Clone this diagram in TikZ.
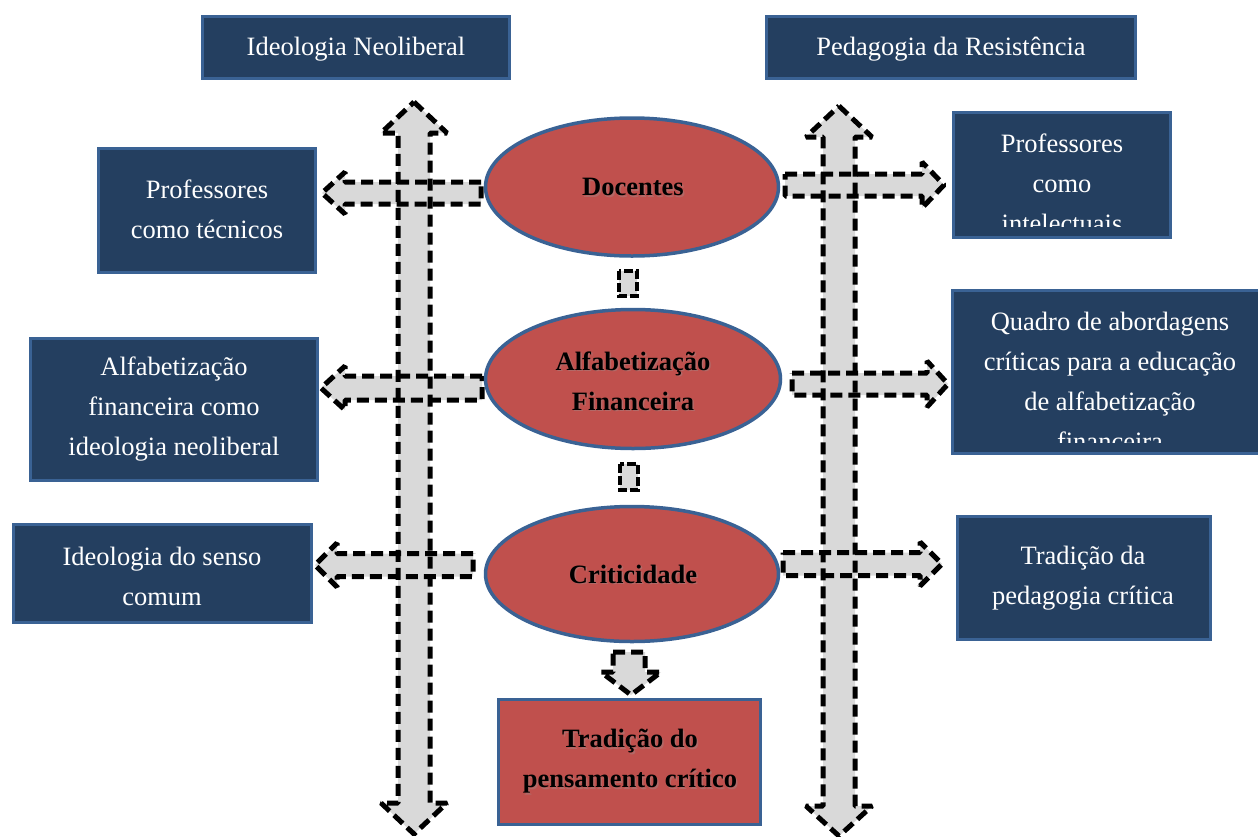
\documentclass[tikz,border=0pt]{standalone}
\usepackage{fontspec}
\setmainfont{Liberation Serif}
\usetikzlibrary{shapes.geometric}
\definecolor{navy}{HTML}{243F60}
\definecolor{bord}{HTML}{3A6294}
\definecolor{redf}{HTML}{C0504D}
\definecolor{arrg}{HTML}{D9D9D9}
% #1 y centre, #2 base x, #3 head x, #4 tip x, #5 shaft half height, #6 head half height
\newcommand\hArrowPath[6]{(#2,#1-#5) -- (#3,#1-#5) -- (#3,#1-#6) -- (#4,#1) -- (#3,#1+#6) -- (#3,#1+#5) -- (#2,#1+#5) -- cycle}
% #1 x centre, #2 top tip, #3 top head, #4 bottom head, #5 bottom tip, #6 shaft half, #7 head half
\newcommand\vArrowPath[7]{(#1,#2) -- (#1+#7,#3) -- (#1+#6,#3) -- (#1+#6,#4) -- (#1+#7,#4) -- (#1,#5) -- (#1-#7,#4) -- (#1-#6,#4) -- (#1-#6,#3) -- (#1-#7,#3) -- cycle}
\newcommand\dArrowPath{(613,652) -- (645,652) -- (645,672) -- (661,672) -- (631,695) -- (601,672) -- (613,672) -- cycle}
\begin{document}
\begin{tikzpicture}[x=1pt,y=-1pt,
  navybox/.style={draw=bord,line width=3pt,fill=navy,inner sep=0pt},
  redbox/.style={draw=bord,line width=3pt,fill=redf,inner sep=0pt},
  wtext/.style={text=white,font=\fontsize{26.5}{40}\selectfont,align=center,inner sep=0pt},
  btext/.style={text=black,font=\fontsize{26.5}{40}\selectfont\bfseries,align=center,inner sep=0pt},
  shtext/.style={btext,text=black!40,opacity=0.35},
  redell/.style={ellipse,draw=bord,line width=3.5pt,fill=redf,inner sep=0pt},
  arrfill/.style={fill=arrg},
  arrline/.style={draw=black,line width=5pt,dash pattern=on 12pt off 6pt,line join=bevel},
  smallline/.style={draw=black,line width=4pt,dash pattern=on 9pt off 3pt}]
\useasboundingbox (0,0) rectangle (1258,836);

% top boxes
\node[navybox,minimum width=307pt,minimum height=62pt] (neo) at (356,47.5) {};
\node[wtext] (neoT) at (356,49.5) {Ideologia Neoliberal};
\node[navybox,minimum width=369pt,minimum height=62pt] (res) at (951,47.5) {};
\node[wtext] (resT) at (951,49.5) {Pedagogia da Resistência};

% left boxes
\node[navybox,minimum width=217pt,minimum height=124pt] (tec) at (207,210.5) {};
\node[wtext] (tecT) at (207,209) {Professores\\como técnicos};
\node[navybox,minimum width=287pt,minimum height=142pt] (afn) at (174,409.5) {};
\node[wtext] (afnT) at (174,409.5) {Alfabetização\\financeira como\\ideologia neoliberal};
\node[navybox,minimum width=298pt,minimum height=98pt] (sen) at (162.5,573.5) {};
\node[wtext] (senT) at (162,576) {Ideologia do senso\\comum};

% right boxes
\node[navybox,minimum width=217pt,minimum height=125pt] (int) at (1062,175) {};
\begin{scope}
  \clip (952,111) rectangle (1172,226);
  \node[wtext] (intT) at (1062,183) {Professores\\como\\intelectuais};
\end{scope}
\node[navybox,minimum width=308pt,minimum height=163pt] (qua) at (1106.5,372) {};
\begin{scope}
  \clip (951,289) rectangle (1258,442);
  \node[wtext] (quaT) at (1110,381) {Quadro de abordagens\\críticas para a educação\\de alfabetização\\financeira};
\end{scope}
\node[navybox,minimum width=253pt,minimum height=123pt] (ped) at (1084,578) {};
\node[wtext] (pedT) at (1083,578.5) {Tradição da\\pedagogia crítica};

% arrow fills
\fill[arrfill] \vArrowPath{414}{102}{133}{803}{834}{16}{33};
\fill[arrfill] \vArrowPath{839}{106}{137}{806}{836}{16}{33};
\fill[arrfill] \hArrowPath{193}{481}{345}{322}{11}{21};
\fill[arrfill] \hArrowPath{388}{482}{345}{321}{12}{22};
\fill[arrfill] \hArrowPath{565}{473}{337}{315}{11.5}{22};
\fill[arrfill] \hArrowPath{185}{785}{922}{944}{11}{23};
\fill[arrfill] \hArrowPath{384}{792}{927}{948}{11}{23};
\fill[arrfill] \hArrowPath{564}{783}{920}{942}{11.5}{22};
\fill[arrfill] \dArrowPath;
\fill[arrfill] (619,271) rectangle (637,296);
\fill[arrfill] (620,464) rectangle (638,490);

% arrow outlines
\path[arrline] \vArrowPath{414}{102}{133}{803}{834}{16}{33};
\path[arrline] \vArrowPath{839}{106}{137}{806}{836}{16}{33};
\path[arrline] \hArrowPath{193}{481}{345}{322}{11}{21};
\path[arrline] \hArrowPath{388}{482}{345}{321}{12}{22};
\path[arrline] \hArrowPath{565}{473}{337}{315}{11.5}{22};
\path[arrline] \hArrowPath{185}{785}{922}{944}{11}{23};
\path[arrline] \hArrowPath{384}{792}{927}{948}{11}{23};
\path[arrline] \hArrowPath{564}{783}{920}{942}{11.5}{22};
\path[arrline] \dArrowPath;
\path[smallline] (619,271) rectangle (637,296);
\path[smallline] (620,464) rectangle (638,490);

% ellipses
\node[redell,minimum width=293pt,minimum height=138pt] (doc) at (632,187) {};
\node[shtext] (docS) at (634.5,188.5) {Docentes};
\node[btext] (docT) at (633,186.5) {Docentes};
\node[redell,minimum width=295pt,minimum height=139pt] (alf) at (633,379) {};
\node[shtext] (alfS) at (634.5,382.5) {Alfabetização\\Financeira};
\node[btext] (alfT) at (633,381) {Alfabetização\\Financeira};
\node[redell,minimum width=293pt,minimum height=135pt] (cri) at (632,574) {};
\node[shtext] (criS) at (634.5,575.5) {Criticidade};
\node[btext] (criT) at (633,574) {Criticidade};

% bottom box
\node[redbox,minimum width=262pt,minimum height=125pt] (tpc) at (629.5,762) {};
\node[shtext] (tpcS) at (631.5,763) {Tradição do\\pensamento crítico};
\node[btext] (tpcT) at (630,761.5) {Tradição do\\pensamento crítico};
\end{tikzpicture}
\end{document}
